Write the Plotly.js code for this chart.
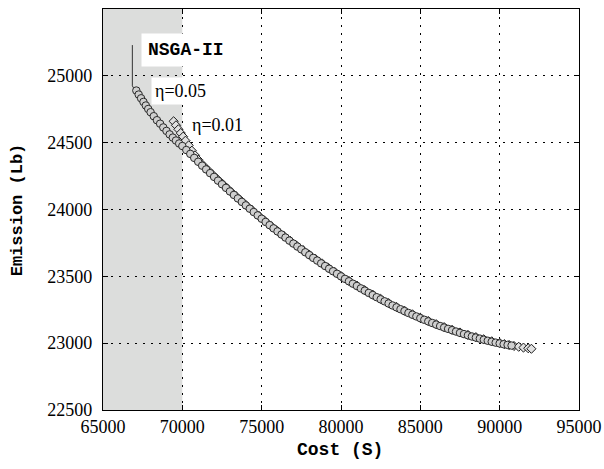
<!DOCTYPE html>
<html>
<head>
<meta charset="utf-8">
<script src="https://cdn.plot.ly/plotly-3.0.1.min.js"></script>
<style>body{margin:0;padding:0;background:#fff}#chart{width:604px;height:469px}</style>
</head>
<body>
<div id="chart"></div>
<script>
// NSGA-II reference line
const nsgaCost = [66850, 66850, 67050];
const nsgaEmission = [25230, 24925, 24885];

// eta = 0.05 (circles)
const eta005Cost = [67100,67250,67400,67550,67700,67850,68000,68200,68400,68600,68800,69000,69200,69400,69600,69800,70000,
  70250,70500,70750,71000,71250,71500,71750,72000,72250,72500,72750,73000,73250,73500,73750,74000,74250,74500,74750,75000,
  75250,75500,75750,76000,76250,76500,76750,77000,77250,77500,77750,78000,78250,78500,78750,79000,79250,79500,79750,80000,
  80250,80500,80750,81000,81250,81500,81750,82000,82250,82500,82750,83000,83250,83500,83750,84000,84250,84500,84750,85000,
  85250,85500,85750,86000,86250,86500,86750,87000,87250,87500,87750,88000,88250,88500,88750,89000,89250,89500,89750,90000,
  90250,90500,90750];
const eta005Emission = [24890,24860,24832,24805,24778,24752,24728,24698,24668,24642,24614,24588,24562,24538,24516,24494,24475,
  24445,24416,24386,24357,24328,24300,24272,24244,24216,24189,24162,24135,24109,24083,24057,24031,24006,23981,23956,23931,
  23907,23883,23859,23836,23813,23790,23767,23745,23723,23702,23680,23659,23638,23618,23597,23577,23557,23538,23519,23500,
  23481,23463,23445,23428,23410,23393,23376,23360,23344,23328,23313,23297,23282,23268,23254,23240,23226,23213,23200,23187,
  23175,23163,23151,23139,23128,23117,23107,23097,23087,23077,23068,23059,23050,23042,23034,23026,23018,23011,23004,22998,
  22992,22987,22982];

// eta = 0.01 (diamonds)
const eta001Cost = [69450,69600,69750,69900,70050,70200,70400,70600,70800,71000,71300,71600,71900,72200,72500,72800,73100,
  73400,73700,74000,74400,74800,75200,75600,76000,76400,76800,77200,77600,78000,78400,78800,79200,79600,80000,80500,81000,
  81500,82000,82500,83000,83500,84000,84500,85000,85500,86000,86500,87000,87500,88000,88500,89000,89500,90000,90300,90600,
  90900,91200,91500,91800,92000];
const eta001Emission = [24660,24630,24600,24572,24545,24515,24480,24440,24405,24372,24332,24297,24262,24228,24195,24162,24129,
  24098,24066,24035,23995,23955,23915,23876,23839,23802,23766,23730,23696,23662,23629,23597,23564,23533,23503,23466,23431,
  23396,23363,23331,23300,23271,23243,23216,23190,23166,23142,23120,23100,23080,23062,23045,23029,23014,23001,22993,22986,
  22979,22973,22967,22962,22958];

const xTicks = [65000,70000,75000,80000,85000,90000,95000];
const yTicks = [22500,23000,23500,24000,24500,25000,25500];
const xTitle = 'Cost (S)';
const yTitle = 'Emission (Lb)';

const serif = "Liberation Serif";
const mono = "Liberation Mono";

const traces = [
  {x: nsgaCost, y: nsgaEmission, mode: 'lines', line: {color: '#333', width: 1}, hoverinfo: 'skip'},
  {x: eta001Cost, y: eta001Emission, mode: 'markers',
   marker: {symbol: 'diamond', size: 7, color: '#e0e0e0', line: {color: '#1a1a1a', width: 1}}},
  {x: eta005Cost, y: eta005Emission, mode: 'markers',
   marker: {symbol: 'circle', size: 7.5, color: '#cfcfcf', line: {color: '#2a2a2a', width: 1}}}
];

function makeAxis(extra) {
  return Object.assign({
    showline: true, linecolor: '#000', linewidth: 1.2, mirror: 'ticks',
    ticks: 'inside', ticklen: 5, tickcolor: '#000',
    showgrid: true, gridcolor: '#000', gridwidth: 1, griddash: '2px,6px',
    zeroline: false, tickfont: {family: serif, size: 18, color: '#000'}
  }, extra);
}

const layout = {
  width: 604, height: 469,
  margin: {l: 103, r: 25, t: 9, b: 59},
  paper_bgcolor: '#fff', plot_bgcolor: '#fff',
  font: {family: serif, size: 18, color: '#000'},
  showlegend: false,
  xaxis: makeAxis({range: [65000, 95000], tickvals: xTicks, ticktext: xTicks.map(String)}),
  yaxis: makeAxis({range: [22500, 25500], tickvals: yTicks, ticktext: yTicks.map(String), ticklabelstandoff: 6}),
  shapes: [{type: 'rect', xref: 'x', yref: 'paper', x0: 65000, x1: 70000, y0: 0, y1: 1,
            fillcolor: '#dcdddc', line: {width: 0}, layer: 'below'}],
  annotations: [
    {xref: 'paper', yref: 'paper', x: 0.498, y: -0.1, xanchor: 'center', yanchor: 'middle',
     text: '<b>' + xTitle + '</b>', showarrow: false, font: {family: mono, size: 18, color: '#000'}},
    {xref: 'paper', yref: 'paper', x: -0.179, y: 0.5, xanchor: 'center', yanchor: 'middle', textangle: -90,
     text: '<b>' + yTitle + '</b>', showarrow: false, font: {family: mono, size: 17, color: '#000'}},
    {x: 70233, y: 25190, xref: 'x', yref: 'y', text: '<b>NSGA-II</b>', showarrow: false,
     font: {family: mono, size: 18, color: '#000'}, bgcolor: '#fff', borderpad: 6},
    {x: 69855, y: 24886, xref: 'x', yref: 'y', text: 'η=0.05', showarrow: false,
     font: {family: serif, size: 18, color: '#000'}, bgcolor: '#fff', borderpad: 3},
    {x: 72190, y: 24632, xref: 'x', yref: 'y', text: 'η=0.01', showarrow: false,
     font: {family: serif, size: 18, color: '#000'}}
  ]
};

Plotly.newPlot('chart', traces, layout, {displayModeBar: false, staticPlot: true});
</script>
</body>
</html>
